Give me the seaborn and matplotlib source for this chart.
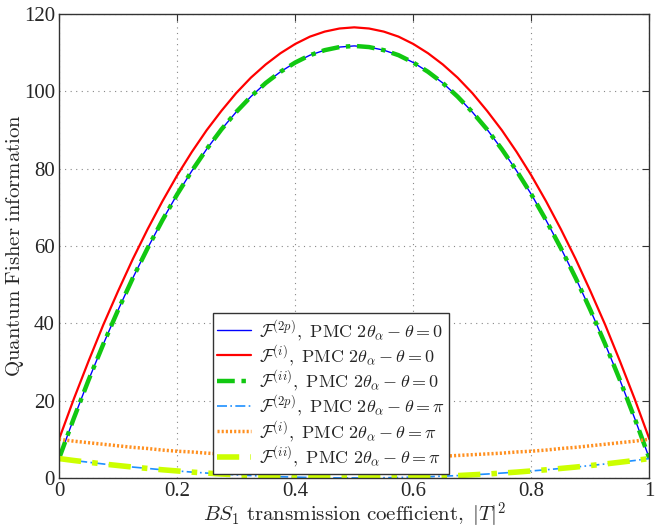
import numpy as np
import pandas as pd
import seaborn as sns
import matplotlib.pyplot as plt

# values at |T|^2 = 0, 0.025, ..., 1
T2 = np.round(np.linspace(0, 1, 41), 3)
F2p_0 = [5.0, 15.4, 25.3, 34.6, 43.4, 51.7, 59.4, 66.6, 73.3, 79.4, 85.0,
         90.1, 94.6, 98.6, 102.1, 105.0, 107.4, 109.3, 110.6, 111.4, 111.7,
         111.4, 110.6, 109.3, 107.4, 105.0, 102.1, 98.6, 94.6, 90.1, 85.0,
         79.4, 73.3, 66.6, 59.4, 51.7, 43.4, 34.6, 25.3, 15.4, 5.0]
Fi_0 = [10.0, 20.4, 30.2, 39.6, 48.3, 56.6, 64.3, 71.5, 78.2, 84.3, 89.9,
        94.9, 99.5, 103.5, 106.9, 109.8, 112.2, 114.1, 115.4, 116.2, 116.5,
        116.2, 115.4, 114.1, 112.2, 109.8, 106.9, 103.5, 99.5, 94.9, 89.9,
        84.3, 78.2, 71.5, 64.3, 56.6, 48.3, 39.6, 30.2, 20.4, 10.0]
Fii_0 = F2p_0
F2p_pi = [5.0, 4.5, 4.05, 3.6, 3.2, 2.8, 2.45, 2.1, 1.8, 1.5, 1.25,
          1.0, 0.8, 0.6, 0.45, 0.3, 0.2, 0.1, 0.05, 0.0, 0.0,
          0.0, 0.05, 0.1, 0.2, 0.3, 0.45, 0.6, 0.8, 1.0, 1.25,
          1.5, 1.8, 2.1, 2.45, 2.8, 3.2, 3.6, 4.05, 4.5, 5.0]
Fi_pi = [10.0, 9.5, 9.1, 8.7, 8.3, 7.9, 7.6, 7.2, 6.9, 6.7, 6.4,
         6.2, 6.0, 5.8, 5.6, 5.5, 5.4, 5.3, 5.2, 5.2, 5.2,
         5.2, 5.2, 5.3, 5.4, 5.5, 5.6, 5.8, 6.0, 6.2, 6.4,
         6.7, 6.9, 7.2, 7.6, 7.9, 8.3, 8.7, 9.1, 9.5, 10.0]
Fii_pi = F2p_pi

labels = [r'$\mathcal{F}^{(2p)},\ \mathrm{PMC}\ 2\theta_\alpha-\theta=0$',
          r'$\mathcal{F}^{(i)},\ \mathrm{PMC}\ 2\theta_\alpha-\theta=0$',
          r'$\mathcal{F}^{(ii)},\ \mathrm{PMC}\ 2\theta_\alpha-\theta=0$',
          r'$\mathcal{F}^{(2p)},\ \mathrm{PMC}\ 2\theta_\alpha-\theta=\pi$',
          r'$\mathcal{F}^{(i)},\ \mathrm{PMC}\ 2\theta_\alpha-\theta=\pi$',
          r'$\mathcal{F}^{(ii)},\ \mathrm{PMC}\ 2\theta_\alpha-\theta=\pi$']
series = [F2p_0, Fi_0, Fii_0, F2p_pi, Fi_pi, Fii_pi]

sns.set_style('white')
plt.rcParams['font.family'] = ['Liberation Serif', 'DejaVu Serif']
plt.rcParams['mathtext.fontset'] = 'cm'

fig = plt.figure(figsize=(6.56, 5.31), dpi=100)
ax = fig.add_axes([0.09, 0.1, 0.9, 0.874])

styles = [dict(color='#0000ff', lw=1.0, ls='-'),
          dict(color='#ff0000', lw=1.6, ls='-'),
          dict(color='#11c811', lw=3.2, ls=(0, (4, 1.5, 1, 1.5))),
          dict(color='#1e90ff', lw=1.2, ls=(0, (6, 2, 1, 2))),
          dict(color='#ff9020', lw=2.5, ls=(0, (0.6, 0.6))),
          dict(color='#ccff00', lw=4.0, ls=(0, (4, 2, 1, 2)))]

for y, lab, st in zip(series, labels, styles):
    sns.lineplot(x=T2, y=y, ax=ax, label=lab, **st)

ax.set_xlim(0, 1)
ax.set_ylim(0, 120)
ax.set_xticks(np.arange(0, 1.01, 0.2))
ax.set_xticklabels(['0', '0.2', '0.4', '0.6', '0.8', '1'])
ax.set_yticks(np.arange(0, 121, 20))
ax.grid(True, color='#888888', ls=(0, (1, 4)), lw=0.8)
ax.tick_params(direction='in', labelsize=15, top=True, right=True, length=5,
               color='#333333', pad=3)
for s in ax.spines.values():
    s.set_color('#333333')
    s.set_linewidth(1.0)

ax.set_xlabel(r'$BS_1\ \mathrm{transmission\ coefficient,}\ |T|^2$', fontsize=15, labelpad=0)
ax.set_ylabel(r'$\mathrm{Quantum\ Fisher\ information}$', fontsize=15)
ax.yaxis.set_label_coords(-0.056, 0.5)

leg = ax.legend(loc='upper left', bbox_to_anchor=(0.26, 0.355), fontsize=13,
                frameon=True, fancybox=False, edgecolor='#333333', framealpha=1,
                handlelength=1.9, handletextpad=0.4, labelspacing=0.02, borderpad=0.25,
                borderaxespad=0)
leg.get_frame().set_linewidth(1.0)

fig.savefig('out.png', dpi=100)
